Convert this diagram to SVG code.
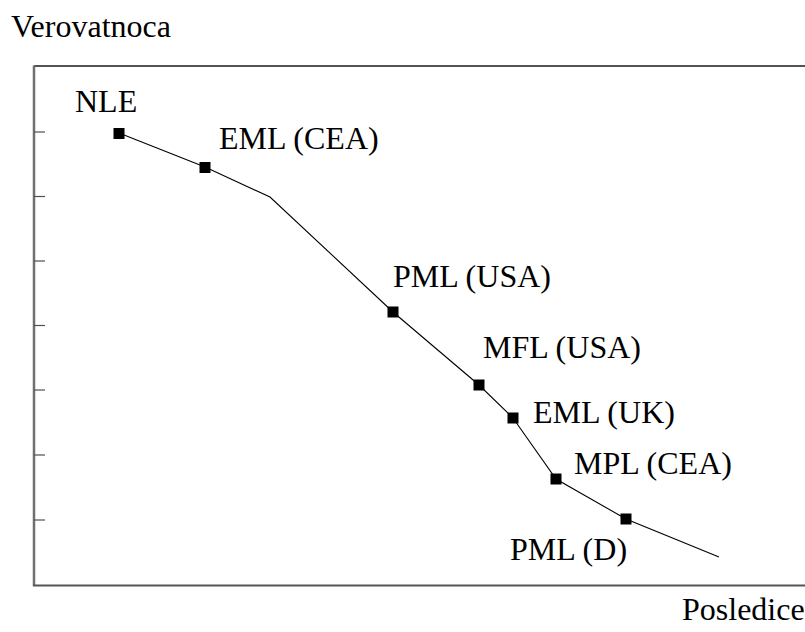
<svg xmlns="http://www.w3.org/2000/svg" width="805" height="632" viewBox="0 0 805 632">
<style>
text{font-family:"Liberation Serif","Times New Roman",serif;font-size:32px;fill:#000}
.axis{stroke:#707070;stroke-width:2.5;fill:none}
.tick{stroke:#505050;stroke-width:1.2}
.curve{stroke:#000;stroke-width:1.1;fill:none}
.pt{fill:#000}
</style>
<rect width="805" height="632" fill="#fff"/>
<g id="axes">
<line x1="34" y1="66" x2="805" y2="66" stroke="#1a1a1a" stroke-width="1.5"/>
<line class="axis" x1="34" y1="65.5" x2="34" y2="586"/>
<line x1="33" y1="585.5" x2="805" y2="585.5" stroke="#555" stroke-width="2"/>
<line class="tick" x1="34" y1="132" x2="45" y2="132"/>
<line class="tick" x1="34" y1="196.5" x2="45" y2="196.5"/>
<line class="tick" x1="34" y1="261" x2="45" y2="261"/>
<line class="tick" x1="34" y1="325.5" x2="45" y2="325.5"/>
<line class="tick" x1="34" y1="390" x2="45" y2="390"/>
<line class="tick" x1="34" y1="455" x2="45" y2="455"/>
<line class="tick" x1="34" y1="520" x2="45" y2="520"/>
<text x="11" y="37">Verovatnoca</text>
<text x="682" y="620">Posledice</text>
</g>
<g id="connectors">
<polyline class="curve" points="119,133 205,167 270,197 393,312 479,385 513,418 556,479 626,519 719,557"/>
</g>
<g id="NLE"><rect class="pt" x="113.5" y="128" width="11" height="11"/><text x="75" y="112">NLE</text></g>
<g id="EML_CEA"><rect class="pt" x="199.5" y="162" width="11" height="11"/><text x="219" y="149">EML (CEA)</text></g>
<g id="PML_USA"><rect class="pt" x="387.5" y="306.5" width="11" height="11"/><text x="393" y="287">PML (USA)</text></g>
<g id="MFL_USA"><rect class="pt" x="473.5" y="379.5" width="11" height="11"/><text x="483" y="358">MFL (USA)</text></g>
<g id="EML_UK"><rect class="pt" x="507.5" y="412.5" width="11" height="11"/><text x="533" y="423">EML (UK)</text></g>
<g id="MPL_CEA"><rect class="pt" x="550.5" y="473.5" width="11" height="11"/><text x="574" y="474">MPL (CEA)</text></g>
<g id="PML_D"><rect class="pt" x="620.5" y="513.5" width="11" height="11"/><text x="510" y="560">PML (D)</text></g>
</svg>
